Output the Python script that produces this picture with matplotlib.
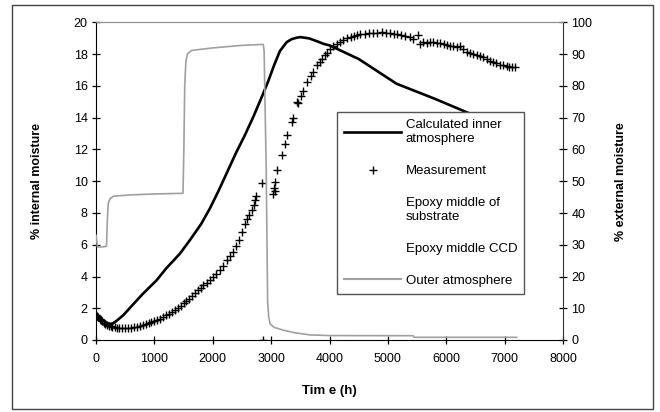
import matplotlib.pyplot as plt
from matplotlib.lines import Line2D
from matplotlib.patches import Rectangle

plt.rcParams["font.family"] = ["Liberation Sans", "DejaVu Sans"]
plt.rcParams["font.size"] = 9

# Calculated inner atmosphere (% internal moisture)
calc_t = [0, 100, 200, 270, 350, 470, 600, 800, 1040, 1200, 1440, 1610, 1800, 1950,
          2100, 2250, 2400, 2550, 2700, 2850, 2950, 3050, 3150, 3266, 3350, 3438,
          3500, 3650, 3800, 3894, 4008, 4123, 4500, 5150, 5800, 6406, 7200]
calc_v = [1.5, 1.25, 1.05, 1.0, 1.2, 1.57, 2.1, 2.9, 3.77, 4.5, 5.45, 6.3, 7.3, 8.28,
          9.4, 10.6, 11.8, 12.9, 14.1, 15.4, 16.3, 17.3, 18.2, 18.76, 18.95, 19.04,
          19.08, 19.0, 18.8, 18.66, 18.55, 18.35, 17.7, 16.14, 15.2, 14.26, 13.1]

# Measurement (% internal moisture)
meas_t = [0, 20, 40, 60, 80, 100, 130, 160, 190, 220, 250, 280, 320, 360, 400, 450,
          500, 550, 600, 650, 700, 750, 800, 850, 900, 950, 1000, 1050, 1100, 1150,
          1200, 1250, 1300, 1350, 1400, 1450, 1500, 1550, 1600, 1650, 1700, 1750,
          1800, 1840, 1900, 1950, 2010, 2060, 2120, 2181, 2238, 2300, 2352, 2400,
          2450, 2500, 2550, 2581, 2620, 2666, 2700, 2723, 2740, 2855, 2838, 3040,
          3050, 3066, 3066, 3095, 3180, 3237, 3266, 3352, 3380, 3437, 3466, 3520,
          3551, 3609, 3680, 3723, 3780, 3830, 3866, 3920, 3960, 4008, 4060, 4120,
          4180, 4237, 4300, 4360, 4420, 4466, 4530, 4600, 4680, 4751, 4820, 4900,
          4960, 5036, 5100, 5150, 5220, 5300, 5379, 5436, 5522, 5550, 5610, 5664,
          5720, 5778, 5840, 5892, 5960, 6010, 6064, 6120, 6178, 6235, 6290, 6349,
          6406, 6463, 6520, 6580, 6634, 6690, 6749, 6805, 6860, 6920, 6977, 7040,
          7080, 7120, 7177]
meas_v = [1.6, 1.5, 1.45, 1.35, 1.25, 1.2, 1.1, 1.0, 0.95, 0.9, 0.88, 0.82, 0.8,
          0.78, 0.75, 0.75, 0.74, 0.75, 0.78, 0.8, 0.85, 0.88, 0.92, 0.98, 1.05,
          1.12, 1.2, 1.28, 1.35, 1.45, 1.55, 1.65, 1.75, 1.88, 2.0, 2.15, 2.3, 2.45,
          2.6, 2.78, 2.95, 3.12, 3.3, 3.46, 3.6, 3.8, 3.98, 4.15, 4.4, 4.68, 5.03,
          5.3, 5.55, 5.9, 6.3, 6.8, 7.3, 7.65, 7.9, 8.17, 8.5, 8.8, 9.1, 0.0, 9.86,
          9.22, 9.6, 9.96, 9.4, 10.7, 11.64, 12.37, 12.9, 13.73, 14.0, 15.0, 14.9,
          15.4, 15.7, 16.25, 16.6, 16.9, 17.3, 17.5, 17.7, 17.95, 18.1, 18.3, 18.5,
          18.65, 18.8, 18.9, 19.0, 19.1, 19.15, 19.2, 19.25, 19.3, 19.33, 19.33,
          19.35, 19.39, 19.35, 19.33, 19.3, 19.29, 19.22, 19.15, 19.08, 18.97, 19.24,
          18.66, 18.75, 18.7, 18.8, 18.8, 18.7, 18.7, 18.65, 18.6, 18.55, 18.55,
          18.45, 18.5, 18.35, 18.13, 18.05, 18.03, 17.95, 17.9, 17.8, 17.7, 17.6,
          17.5, 17.45, 17.35, 17.3, 17.25, 17.2, 17.19, 17.2]

# Outer atmosphere (% external moisture)
outer_t = [0, 25, 100, 180, 195, 210, 240, 300, 600, 1000, 1490, 1505, 1520, 1540,
           1570, 1640, 2000, 2500, 2866, 2880, 2895, 2915, 2930, 2940, 2960, 2985,
           3050, 3208, 3400, 3666, 4000, 5430, 5450, 7206]
outer_r = [33, 29.3, 29.3, 29.5, 38, 43, 44.5, 45.3, 45.7, 46, 46.2, 60, 80, 88,
           90.2, 91.2, 92, 92.8, 93.1, 91, 75, 55, 30, 12, 7, 5, 4, 3.1, 2.3, 1.6,
           1.4, 1.35, 0.85, 0.85]

fig = plt.figure(figsize=(6.6, 4.12), dpi=100)
ax = fig.add_axes([96 / 660, 1 - 340 / 412, 467 / 660, 317.5 / 412])
ax2 = ax.twinx()

ax.plot(calc_t, calc_v, color="black", lw=1.9, zorder=3)
ax.plot(meas_t, meas_v, linestyle="none", marker="+", color="black",
        markersize=6, mew=1.0, zorder=4)
ax2.plot(outer_t, outer_r, color="#a0a0a0", lw=1.2)

ax.set_xlim(0, 8000)
ax.set_ylim(0, 20)
ax2.set_ylim(0, 100)
ax.set_xticks(range(0, 8001, 1000))
ax.set_yticks(range(0, 21, 2))
ax2.set_yticks(range(0, 101, 10))

for a in (ax, ax2):
    a.tick_params(direction="inout", length=6, width=0.9, colors="black",
                  labelsize=9)
    a.spines["top"].set_color("#909090")
ax.tick_params(axis="x", pad=6)
ax.tick_params(axis="y", pad=3)
ax2.tick_params(axis="y", pad=3)
ax.spines["right"].set_visible(False)
ax2.spines["left"].set_visible(False)
ax2.spines["bottom"].set_visible(False)
ax2.spines["right"].set_color("#333333")

ax.set_xlabel("Tim e (h)", fontweight="bold", fontsize=9.5)
ax.xaxis.set_label_coords(0.5, -0.142)
ax.set_ylabel("% internal moisture", fontweight="bold", fontsize=9)
ax.yaxis.set_label_coords(-0.1135, 0.5)
ax2.set_ylabel("% external moisture", fontweight="bold", fontsize=9)
ax2.yaxis.set_label_coords(1.111, 0.5)

handles = [
    Line2D([], [], color="black", lw=1.9),
    Line2D([], [], linestyle="none", marker="+", color="black", markersize=6, mew=1.0),
    Line2D([], [], linestyle="none"),
    Line2D([], [], linestyle="none"),
    Line2D([], [], color="#a0a0a0", lw=1.5),
]
labels = ["Calculated inner\natmosphere", "Measurement", "Epoxy middle of\nsubstrate",
          "Epoxy middle CCD", "Outer atmosphere"]
leg = ax2.legend(handles, labels, loc="upper left", bbox_to_anchor=(0.516, 0.718),
                 borderaxespad=0, fancybox=False, framealpha=1, edgecolor="#555555",
                 handlelength=4.3, handletextpad=0.35, labelspacing=1.5,
                 borderpad=0.55, fontsize=9.5, numpoints=1)
leg.get_frame().set_linewidth(1.0)

fig.patches.append(Rectangle((12 / 660, 1 - 409 / 412), 641 / 660, 404 / 412,
                             transform=fig.transFigure, fill=False,
                             edgecolor="#444444", lw=1.0))

fig.savefig("out.png", dpi=100)
